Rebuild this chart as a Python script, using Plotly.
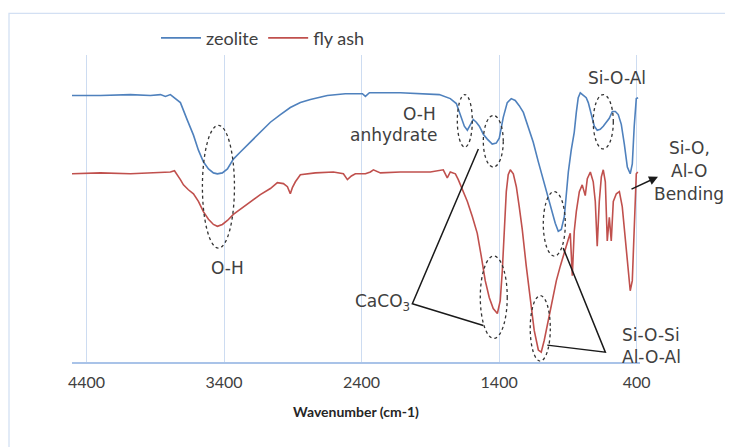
import plotly.graph_objects as go

# ---------------- data ----------------
wn_zeolite = [4505, 4298, 4080, 3935, 3862, 3826, 3790, 3753, 3717, 3666, 3622, 3586, 3550, 3513,
              3477, 3448, 3412, 3375, 3332, 3281, 3208, 3136, 3063, 2990, 2918, 2845, 2772, 2649,
              2518, 2394, 2372, 2343, 2118, 1835, 1755, 1711, 1682, 1653, 1631, 1609, 1588, 1566,
              1544, 1515, 1486, 1450, 1421, 1399, 1370, 1341, 1312, 1283, 1254, 1224, 1188, 1152,
              1115, 1079, 1043, 1014, 992, 970, 948, 926, 912, 897, 876, 854, 839, 825, 810, 796,
              781, 767, 752, 730, 708, 687, 665, 643, 621, 599, 577, 555, 534, 512, 490, 468, 447,
              432, 418, 403, 390]
t_zeolite = [86.8, 86.8, 87.1, 86.8, 87.1, 86.5, 87.1, 85.8, 84.5, 78.7, 73.9, 69.0, 65.2, 62.9,
             61.6, 61.3, 61.6, 62.9, 66.1, 68.4, 71.6, 74.8, 78.1, 80.6, 82.9, 84.5, 85.5, 86.8,
             87.4, 87.4, 86.5, 87.7, 87.7, 87.1, 85.8, 84.2, 80.3, 76.8, 75.5, 77.4, 79.0, 78.1,
             76.8, 74.2, 72.6, 71.0, 71.3, 72.9, 79.7, 84.5, 85.8, 85.2, 83.5, 81.3, 76.5, 71.6,
             65.2, 59.4, 53.9, 49.0, 45.2, 42.6, 43.2, 47.4, 55.5, 61.9, 69.0, 74.8, 81.3, 86.1,
             87.7, 87.1, 86.5, 86.1, 84.5, 80.3, 76.8, 75.5, 75.8, 76.8, 78.1, 79.4, 81.6, 81.6,
             80.6, 77.4, 71.0, 63.5, 61.3, 64.5, 76.8, 85.8, 86.1]

wn_flyash = [4505, 4298, 4080, 3862, 3790, 3760, 3739, 3717, 3695, 3659, 3622, 3586, 3550, 3513,
             3477, 3448, 3412, 3375, 3332, 3245, 3136, 3063, 3012, 2968, 2939, 2918, 2903, 2881,
             2845, 2736, 2605, 2532, 2503, 2474, 2445, 2372, 2336, 2314, 2263, 2118, 1900, 1806,
             1777, 1755, 1718, 1697, 1668, 1631, 1595, 1559, 1530, 1501, 1472, 1443, 1413, 1392,
             1377, 1363, 1348, 1334, 1319, 1297, 1275, 1254, 1232, 1203, 1174, 1145, 1115, 1094,
             1072, 1043, 1014, 984, 955, 926, 897, 883, 868, 854, 839, 817, 796, 774, 759, 737,
             716, 701, 687, 672, 657, 643, 628, 614, 599, 585, 570, 548, 526, 505, 483, 461, 447,
             432, 418, 403, 392]
t_flyash = [61.3, 61.6, 61.3, 61.6, 61.9, 62.3, 61.0, 59.4, 57.7, 56.1, 54.8, 52.3, 49.0, 46.5,
            44.8, 44.2, 44.8, 46.1, 48.1, 51.0, 54.5, 56.5, 58.4, 58.1, 57.1, 54.8, 56.8, 58.7,
            61.0, 61.6, 61.9, 61.3, 59.4, 60.6, 61.3, 61.3, 61.9, 62.6, 61.6, 61.9, 61.9, 62.6,
            60.0, 61.9, 61.3, 59.4, 56.1, 52.3, 47.4, 41.9, 34.5, 26.5, 21.0, 17.4, 15.8, 20.0,
            29.7, 44.2, 55.5, 61.0, 62.6, 61.3, 57.1, 50.6, 43.2, 31.3, 20.0, 10.3, 3.9, 3.2,
            7.1, 13.5, 20.0, 26.5, 31.3, 36.1, 40.0, 41.9, 28.1, 42.6, 49.0, 55.5, 57.7, 54.2,
            59.7, 61.9, 58.7, 52.3, 37.7, 52.3, 60.3, 62.6, 58.7, 39.4, 47.1, 39.4, 52.3, 54.8,
            55.5, 50.6, 39.4, 28.1, 23.2, 26.5, 41.0, 61.3, 61.9]

tick_values = [4400, 3400, 2400, 1400, 400]
tick_labels = ["4400", "3400", "2400", "1400", "400"]

series_names = ["zeolite", "fly ash"]
series_colors = ["#4f81bd", "#c0504d"]

# ---------------- figure ----------------
OFF = 8                      # page body margin
W, H = 733 - OFF, 447 - OFF
L, T = 72 - OFF, 52 - OFF
pw, ph = 568, 310
R, B = W - L - pw, H - T - ph


def px(xp):  # absolute screenshot x -> paper
    return (xp - OFF - L) / pw


def py(yp):  # absolute screenshot y -> paper
    return (OFF + T + ph - yp) / ph


fig = go.Figure()
fig.add_trace(go.Scatter(x=wn_zeolite, y=t_zeolite, mode="lines", name=series_names[0],
                         line=dict(color=series_colors[0], width=1.6)))
fig.add_trace(go.Scatter(x=wn_flyash, y=t_flyash, mode="lines", name=series_names[1],
                         line=dict(color=series_colors[1], width=1.6)))

grid_col = "#cddcf1"
txt_col = "#404040"
afont = dict(family="DejaVu Sans", size=17, color=txt_col)

shapes = []
# outer chart border
shapes.append(dict(type="rect", xref="paper", yref="paper", x0=px(9), x1=px(760), y0=py(470), y1=py(10),
                   line=dict(color="#d3e0f3", width=1.3), layer="below"))

# dotted ellipses (wavenumber x-range, %T y-range)
ellipses = [
    (3557, 3324, 37.1, 77.1),
    (1704, 1595, 70.0, 87.1),
    (1515, 1370, 63.5, 80.3),
    (716, 570, 69.4, 87.1),
    (1079, 919, 34.5, 55.5),
    (1537, 1341, 7.7, 34.5),
    (1174, 1028, 0.3, 21.6),
]
for x0, x1, y0, y1 in ellipses:
    shapes.append(dict(type="circle", xref="x", yref="y", x0=x0, x1=x1, y0=y0, y1=y1,
                       line=dict(color="#333333", width=1.3, dash="dot")))

# callout lines
callouts = [
    [(1551, 69.4), (2031, 19.0), (1515, 11.9)],
    [(934, 37.1), (628, 3.2), (1050, 5.5)],
]
for pts in callouts:
    path = "M " + " L ".join(f"{x},{y}" for x, y in pts)
    shapes.append(dict(type="path", xref="x", yref="y", path=path,
                       line=dict(color="#1a1a1a", width=1.5)))


def label(xa, ya, text, anchor="center"):
    return dict(x=px(xa), y=py(ya), xref="paper", yref="paper", text=text, showarrow=False,
                font=afont, xanchor=anchor, yanchor="middle")


annotations = [
    label(227, 267, "O-H"),
    label(438, 112, "O-H", "right"),
    label(439, 133, "anhydrate", "right"),
    label(617, 75, "Si-O-Al"),
    label(689, 146, "Si-O,"),
    label(689, 169, "Al-O"),
    label(689, 192, "Bending"),
    label(382, 302, "CaCO<sub>3</sub>"),
    label(651, 335, "Si-O-Si"),
    label(651, 357, "Al-O-Al"),
    dict(x=px(658), y=py(175), xref="paper", yref="paper", text="", showarrow=True,
         ax=-28, ay=13, arrowhead=2, arrowsize=1.2, arrowwidth=1.5, arrowcolor="#1a1a1a"),
]

fig.update_layout(
    width=W, height=H,
    margin=dict(l=L, r=R, t=T, b=B, pad=0),
    paper_bgcolor="white", plot_bgcolor="white",
    showlegend=True,
    legend=dict(orientation="h", x=px(156), y=py(35), xanchor="left", yanchor="middle",
                font=dict(family="Lato", size=18, color=txt_col), bgcolor="rgba(0,0,0,0)",
                itemwidth=40, tracegroupgap=0),
    shapes=shapes,
    annotations=annotations,
    xaxis=dict(range=[4505, 376], tickvals=tick_values, ticktext=tick_labels,
               showgrid=True, gridcolor=grid_col, gridwidth=1, zeroline=False,
               showline=True, linecolor="#a9c3e8", linewidth=1.5,
               ticks="", ticklabelstandoff=5,
               tickfont=dict(family="Lato", size=16, color=txt_col),
               title=dict(text="<b>Wavenumber (cm-1)</b>", standoff=17,
                          font=dict(family="Lato", size=14, color="#262626"))),
    yaxis=dict(range=[0, 100], visible=False, showgrid=False, zeroline=False),
)

fig.write_html("out.html")
